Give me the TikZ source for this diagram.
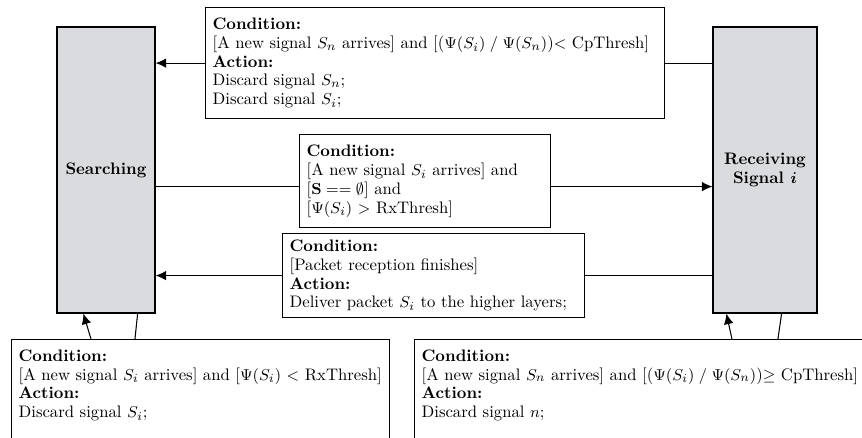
\documentclass[tikz,border=0pt]{standalone}
\usepackage{amsmath}
\usepackage{amssymb}
\usepackage{tikz}
\usetikzlibrary{arrows.meta}

\definecolor{stategray}{RGB}{218,219,222}
\newcommand{\diagfont}{\fontsize{9.5}{10.7}\selectfont}

\tikzset{
  state/.style={draw, line width=0.7pt, fill=stategray, minimum width=1.96cm,
    minimum height=5.72cm, align=center, font=\diagfont\bfseries},
  cond/.style={draw, line width=0.7pt, fill=white, anchor=north west,
    align=left, inner xsep=0.14cm, inner ysep=0pt, font=\diagfont},
  arr/.style={line width=0.6pt, -{Latex[length=6pt,width=5.5pt]}},
  conn/.style={line width=0.6pt}
}

\begin{document}
\begin{tikzpicture}[x=0.02cm, y=-0.02cm]

  \path[use as bounding box, clip] (0,0) rectangle (862,438);

  % the two states
  \node[state] (searching) at (106,170) {Searching};
  \node[state, minimum width=2.08cm] (receiving) at (765,170)
    {Receiving\\Signal $\boldsymbol{i}$};

  % transitions between the states
  \node[cond, text width=8.9cm, minimum height=2.22cm] (capfail) at (205,7)
    {\textbf{Condition:}\\
     {[}A new signal $S_n$ arrives] and [($\Psi(S_i)\;/\;\Psi(S_n)$)$<$ CpThresh]\\
     \textbf{Action:}\\
     Discard signal $S_n$;\\
     Discard signal $S_i$;};

  \node[cond, text width=4.74cm, minimum height=1.86cm] (lockon) at (299,134)
    {\textbf{Condition:}\\
     {[}A new signal $S_i$ arrives] and\\
     {[}$\mathbf{S} == \emptyset$] and\\
     {[}$\Psi(S_i)$ $>$ RxThresh]};

  \node[cond, text width=5.76cm, minimum height=1.68cm] (finish) at (282,233)
    {\textbf{Condition:}\\
     {[}Packet reception finishes]\\
     \textbf{Action:}\\
     Deliver packet $S_i$ to the higher layers;};

  % self loops
  \node[cond, text width=7.28cm, text depth=2cm, inner ysep=0.2cm] (weak) at (11,339)
    {\textbf{Condition:}\\
     {[}A new signal $S_i$ arrives] and [$\Psi(S_i)$ $<$ RxThresh]\\
     \textbf{Action:}\\
     Discard signal $S_i$;};

  \node[cond, text width=9.12cm, text depth=2cm, inner ysep=0.2cm] (capok) at (414,339)
    {\textbf{Condition:}\\
     {[}A new signal $S_n$ arrives] and [($\Psi(S_i)\;/\;\Psi(S_n)$)$\geq$ CpThresh]\\
     \textbf{Action:}\\
     Discard signal $n$;};

  \coordinate (lockin) at ([yshift=-0.11cm]lockon.west);
  \coordinate (lockout) at ([yshift=-0.11cm]lockon.east);

  \draw[conn] (receiving.west |- capfail.east) -- (capfail.east);
  \draw[arr] (capfail.west) -- (capfail.west -| searching.east);

  \draw[conn] (searching.east |- lockin) -- (lockin);
  \draw[arr] (lockout) -- (lockout -| receiving.west);

  \draw[conn] (receiving.west |- finish.east) -- (finish.east);
  \draw[arr] (finish.west) -- (finish.west -| searching.east);

  \draw[arr] ([xshift=1.6cm]weak.north west) -- ([xshift=0.54cm]searching.south west);
  \draw[conn] ([xshift=2.48cm]weak.north west) -- ([xshift=-0.36cm]searching.south east);

  \draw[arr] ([xshift=6.36cm]capok.north west) -- ([xshift=0.28cm]receiving.south west);
  \draw[conn] ([xshift=7.28cm]capok.north west) -- ([xshift=-0.72cm]receiving.south east);

\end{tikzpicture}
\end{document}
